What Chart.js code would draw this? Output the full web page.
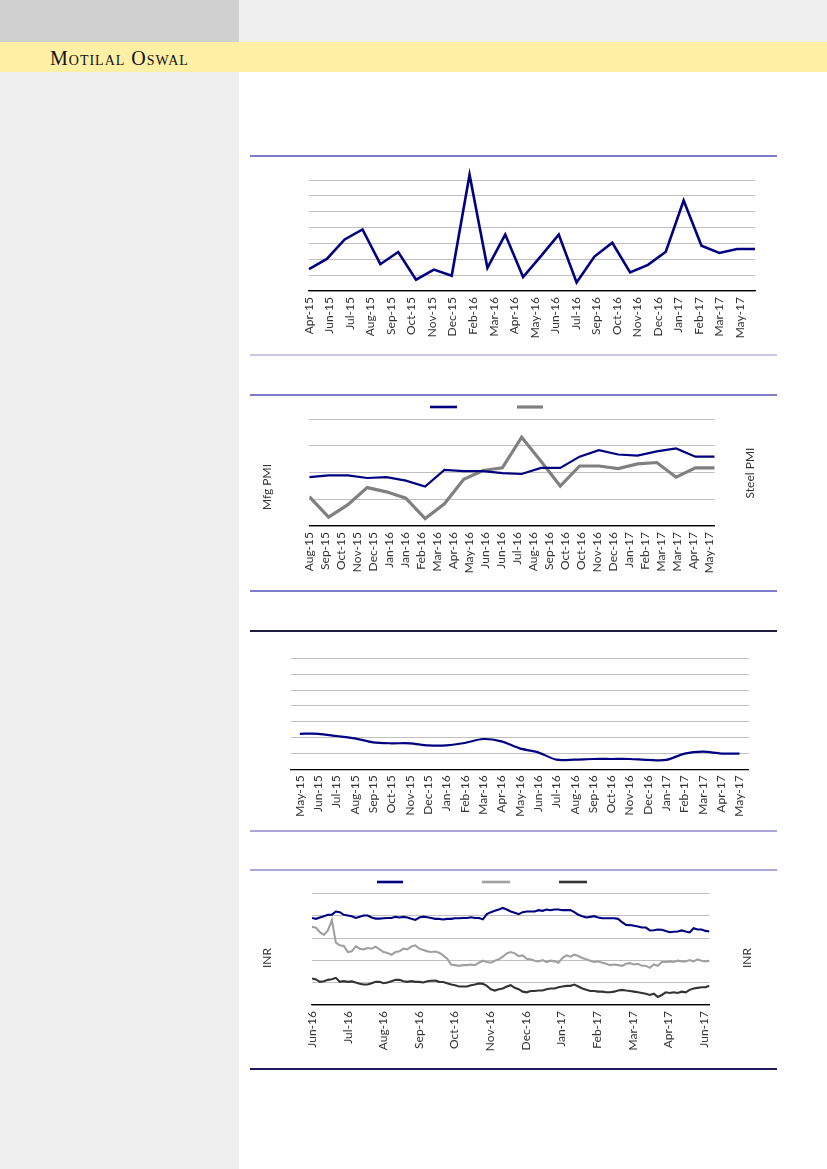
<!DOCTYPE html>
<html>
<head>
<meta charset="utf-8">
<script src="https://cdn.jsdelivr.net/npm/chart.js@4.4.0/dist/chart.umd.min.js"></script>
<style>
  html, body { margin: 0; padding: 0; }
  body { width: 827px; height: 1169px; position: relative; overflow: hidden; background: #fff; }
  .block { position: absolute; }
  .rule { position: absolute; left: 250px; width: 527px; }
  .graph { position: absolute; left: 250px; width: 527px; }
  .brand { position: absolute; left: 50px; top: 47px; font-family: "Liberation Serif", serif; font-variant: small-caps; font-size: 20px; color: #111; letter-spacing: 1px; }
</style>
</head>
<body>
<!-- page frame -->
<div class="block" style="left:0;top:0;width:239px;height:42px;background:#d0d0d0"></div>
<div class="block" style="left:239px;top:0;width:588px;height:42px;background:#efefef"></div>
<div class="block" style="left:0;top:42px;width:827px;height:30px;background:#fff0a6"></div>
<div class="block" style="left:0;top:72px;width:239px;height:1097px;background:#efefef"></div>
<div class="brand">Motilal Oswal</div>

<!-- rules above / below each chart -->
<div class="rule" style="top:155px;height:1.5px;background:#7c7cc8"></div>
<div class="rule" style="top:354px;height:2px;background:#c8c8e6"></div>
<div class="rule" style="top:394px;height:1.5px;background:#7c7cc8"></div>
<div class="rule" style="top:590px;height:1.5px;background:#7c7cc8"></div>
<div class="rule" style="top:630px;height:1.5px;background:#1e1e40"></div>
<div class="rule" style="top:829.5px;height:2.5px;background:#a8a8d8"></div>
<div class="rule" style="top:868.5px;height:2.5px;background:#a8a8d8"></div>
<div class="rule" style="top:1068px;height:1.5px;background:#1c1c5c"></div>

<div class="graph" style="top:158px;height:195px"><canvas id="graph1"></canvas></div>
<div class="graph" style="top:397px;height:192px"><canvas id="graph2"></canvas></div>
<div class="graph" style="top:633px;height:196px"><canvas id="graph3"></canvas></div>
<div class="graph" style="top:872px;height:195px"><canvas id="graph4"></canvas></div>

<script>
// Chart 1 - monthly series, Apr-15 to May-17 (values in gridline units).
const chart1_ticks = ['Apr-15', 'Jun-15', 'Jul-15', 'Aug-15', 'Sep-15', 'Oct-15', 'Nov-15', 'Dec-15', 'Feb-16', 'Mar-16', 'Apr-16',
  'May-16', 'Jun-16', 'Jul-16', 'Sep-16', 'Oct-16', 'Nov-16', 'Dec-16', 'Jan-17', 'Feb-17', 'Mar-17', 'May-17'];
const chart1_values = [1.38, 2.02, 3.25, 3.88, 1.69, 2.46, 0.71, 1.35, 0.96, 7.33, 1.46, 3.56, 0.88,
  2.2, 3.56, 0.54, 2.17, 3.04, 1.17, 1.65, 2.48, 5.71, 2.85, 2.40, 2.65, 2.65];

// Chart 2 - Mfg PMI vs Steel PMI, Aug-15 to May-17.
const pmi_ticks = ['Aug-15', 'Sep-15', 'Oct-15', 'Nov-15', 'Dec-15', 'Jan-16', 'Jan-16', 'Feb-16', 'Mar-16', 'Apr-16', 'May-16',
  'Jun-16', 'Jun-16', 'Jul-16', 'Aug-16', 'Sep-16', 'Oct-16', 'Oct-16', 'Nov-16', 'Dec-16', 'Jan-17', 'Feb-17', 'Mar-17',
  'Mar-17', 'Apr-17', 'May-17'];
const mfg_pmi = [1.83, 1.9, 1.9, 1.8, 1.83, 1.7, 1.48, 2.1, 2.06, 2.06, 1.98, 1.95, 2.18, 2.18, 2.6, 2.84,
  2.68, 2.64, 2.8, 2.91, 2.6, 2.6];
const steel_pmi = [1.1, 0.33, 0.8, 1.44, 1.28, 1.04, 0.28, 0.83, 1.75, 2.08, 2.18, 3.33, 2.43, 1.5, 2.25, 2.25,
  2.15, 2.33, 2.38, 1.83, 2.18, 2.18];

// Chart 3 - monthly series, May-15 to May-17.
const chart3_months = ['May-15', 'Jun-15', 'Jul-15', 'Aug-15', 'Sep-15', 'Oct-15', 'Nov-15', 'Dec-15', 'Jan-16', 'Feb-16',
  'Mar-16', 'Apr-16', 'May-16', 'Jun-16', 'Jul-16', 'Aug-16', 'Sep-16', 'Oct-16', 'Nov-16', 'Dec-16', 'Jan-17', 'Feb-17',
  'Mar-17', 'Apr-17', 'May-17'];
const chart3_values = [2.24, 2.24, 2.1, 1.95, 1.7, 1.64, 1.64, 1.51, 1.51, 1.66, 1.91, 1.76, 1.32, 1.07, 0.61,
  0.61, 0.65, 0.65, 0.65, 0.59, 0.59, 0.99, 1.11, 0.99, 0.99];

// Chart 4 - INR crosses, Jun-16 to Jun-17 (read every few trading days).
const inr_ticks = ['Jun-16', 'Jul-16', 'Aug-16', 'Sep-16', 'Oct-16', 'Nov-16', 'Dec-16', 'Jan-17', 'Feb-17', 'Mar-17', 'Apr-17', 'Jun-17'];
const inr_navy = [3.91, 3.87, 3.93, 3.99, 4.05, 4.06, 4.20, 4.17, 4.05, 4.02, 3.99, 3.91, 3.96, 4.02, 4.02, 3.93, 3.88,
  3.88, 3.90, 3.91, 3.91, 3.96, 3.93, 3.96, 3.93, 3.87,
  3.82, 3.93, 3.97, 3.94, 3.91, 3.87, 3.87, 3.84, 3.87, 3.87, 3.90, 3.90, 3.91, 3.91, 3.94, 3.91, 3.91, 3.85, 4.08,
  4.17, 4.23, 4.29, 4.36, 4.29, 4.20,
  4.14, 4.08, 4.17, 4.20, 4.20, 4.20, 4.26, 4.23, 4.29, 4.26, 4.29, 4.29, 4.26, 4.26, 4.26, 4.17, 4.05, 3.99, 3.93,
  3.96, 3.99, 3.93, 3.90, 3.90, 3.90,
  3.90, 3.87, 3.72, 3.60, 3.59, 3.56, 3.53, 3.48, 3.48, 3.35, 3.36, 3.39, 3.38, 3.32, 3.27, 3.29, 3.30, 3.35, 3.30,
  3.26, 3.45, 3.39, 3.39, 3.33, 3.30];
const inr_light = [3.51, 3.47, 3.27, 3.15, 3.35, 3.81, 2.80, 2.68, 2.65, 2.38, 2.41, 2.63, 2.53, 2.50, 2.56, 2.53, 2.62,
  2.50, 2.38, 2.34, 2.26, 2.38, 2.41, 2.53, 2.50, 2.63,
  2.68, 2.53, 2.47, 2.41, 2.38, 2.40, 2.35, 2.23, 2.08, 1.82, 1.79, 1.76, 1.79, 1.79, 1.82, 1.79, 1.90, 1.99, 1.93,
  1.90, 1.99, 2.05, 2.17, 2.32, 2.38,
  2.32, 2.20, 2.23, 2.08, 2.05, 1.99, 1.96, 2.02, 1.93, 1.99, 1.96, 1.90, 2.11, 2.23, 2.17, 2.26, 2.20, 2.11, 2.05,
  1.99, 1.93, 1.96, 1.90, 1.85, 1.79,
  1.82, 1.79, 1.76, 1.85, 1.88, 1.82, 1.85, 1.76, 1.76, 1.67, 1.82, 1.76, 1.93, 1.93, 1.96, 1.93, 1.99, 1.96, 1.96,
  2.02, 1.96, 2.05, 1.99, 1.96, 1.99];
const inr_dark = [1.19, 1.15, 1.04, 1.07, 1.13, 1.16, 1.22, 1.04, 1.07, 1.04, 1.06, 1.01, 0.95, 0.92, 0.92, 0.98, 1.04,
  1.04, 0.98, 1.01, 1.07, 1.13, 1.13, 1.07, 1.04, 1.07,
  1.04, 1.04, 1.01, 1.07, 1.09, 1.10, 1.04, 1.03, 0.98, 0.92, 0.89, 0.83, 0.83, 0.83, 0.89, 0.92, 0.97, 0.95, 0.86,
  0.71, 0.65, 0.71, 0.74, 0.83, 0.89,
  0.77, 0.71, 0.60, 0.57, 0.63, 0.63, 0.65, 0.65, 0.71, 0.74, 0.74, 0.80, 0.83, 0.86, 0.86, 0.92, 0.83, 0.74, 0.68,
  0.63, 0.63, 0.60, 0.60, 0.57, 0.57,
  0.60, 0.65, 0.68, 0.65, 0.63, 0.60, 0.57, 0.54, 0.51, 0.45, 0.51, 0.36, 0.45, 0.57, 0.54, 0.57, 0.54, 0.60, 0.57,
  0.68, 0.74, 0.77, 0.80, 0.80, 0.86];

const NAVY = '#000080';
const tick_font = { family: 'Lato', size: 12 };

// Rotated axis titles (both read bottom to top, like the original).
const side_titles = {
  id: 'side_titles',
  afterDraw(chart, args, opts) {
    const ctx = chart.ctx;
    (opts.items || []).forEach(item => {
      ctx.save();
      ctx.translate(item.x, item.y);
      ctx.rotate(-Math.PI / 2);
      ctx.font = '12px Lato';
      ctx.fillStyle = '#333';
      ctx.textAlign = 'center';
      ctx.textBaseline = 'middle';
      ctx.fillText(item.text, 0, 0);
      ctx.restore();
    });
  }
};

// Legend samples: just a short stroke in each dataset's colour (the legend text is blank).
const legend_lines = {
  id: 'legend_lines',
  afterDraw(chart, args, opts) {
    const ctx = chart.ctx;
    (opts.items || []).forEach((item, i) => {
      const ds = chart.data.datasets[i];
      ctx.save();
      ctx.strokeStyle = ds.borderColor;
      ctx.lineWidth = item.w || 3;
      ctx.beginPath();
      ctx.moveTo(item.x1, item.y);
      ctx.lineTo(item.x2, item.y);
      ctx.stroke();
      ctx.restore();
    });
  }
};

function y_scale(max, width) {
  return {
    min: 0,
    max: max,
    ticks: { display: false, stepSize: 1 },
    grid: { color: '#c0c0c0', lineWidth: 1, drawTicks: false },
    border: { display: false },
    afterFit: (scale) => { scale.width = width; }
  };
}

// Linear x axis with hand placed date ticks (the source used a date axis).
function x_date_scale(max, labels, step, height) {
  return {
    type: 'linear',
    min: 0,
    max: max,
    afterBuildTicks: (scale) => {
      scale.ticks = labels.map((l, k) => ({ value: k * step }));
    },
    ticks: {
      autoSkip: false, minRotation: 90, maxRotation: 90, padding: 6,
      color: '#333', font: tick_font,
      callback: (value, index) => labels[index]
    },
    grid: { display: false, drawTicks: false },
    border: { display: true, color: '#000', width: 1.3 },
    afterFit: (scale) => { scale.height = height; }
  };
}

function base_options(scales, padding, plugins) {
  return {
    responsive: true,
    maintainAspectRatio: false,
    animation: false,
    layout: { padding: padding },
    elements: { point: { radius: 0 }, line: { tension: 0 } },
    plugins: Object.assign({ legend: { display: false }, tooltip: { enabled: false } }, plugins || {}),
    scales: scales
  };
}

function to_points(values) {
  return values.map((v, i) => ({ x: i, y: v }));
}

// Chart 1
new Chart(document.getElementById('graph1'), {
  type: 'line',
  data: {
    datasets: [{ data: to_points(chart1_values), borderColor: NAVY, borderWidth: 2.6, clip: false }]
  },
  options: base_options({
    x: x_date_scale(25, chart1_ticks, 1.15, 62),
    y: y_scale(7, 59)
  }, { top: 22, right: 22, bottom: 0, left: 0 })
});

// Chart 2
new Chart(document.getElementById('graph2'), {
  type: 'line',
  data: {
    datasets: [
      { label: 'Mfg PMI', data: to_points(mfg_pmi), borderColor: NAVY, borderWidth: 2.2 },
      { label: 'Steel PMI', data: to_points(steel_pmi), borderColor: '#808080', borderWidth: 3.2, yAxisID: 'y1' }
    ]
  },
  options: base_options({
    x: x_date_scale(21, pmi_ticks, 0.8276, 63),
    y: y_scale(4, 59.3),
    y1: { display: false, min: 0, max: 4 }
  }, { top: 22.3, right: 62.3, bottom: 0, left: 0 }, {
    side_titles: { items: [{ text: 'Mfg PMI', x: 17, y: 90 }, { text: 'Steel PMI', x: 500, y: 76 }] },
    legend_lines: { items: [{ x1: 180, x2: 207, y: 10, w: 2.6 }, { x1: 267, x2: 293, y: 10, w: 3.2 }] }
  }),
  plugins: [side_titles, legend_lines]
});

// Chart 3
new Chart(document.getElementById('graph3'), {
  type: 'line',
  data: {
    labels: chart3_months,
    datasets: [{ data: chart3_values, borderColor: NAVY, borderWidth: 2.2, tension: 0.3 }]
  },
  options: base_options({
    x: {
      type: 'category',
      offset: true,
      ticks: { autoSkip: false, minRotation: 90, maxRotation: 90, padding: 6, color: '#333', font: tick_font },
      grid: { display: false, drawTicks: false },
      border: { display: true, color: '#000', width: 1.3 },
      afterFit: (scale) => { scale.height = 59.7; }
    },
    y: y_scale(7, 40.7)
  }, { top: 25.3, right: 28.3, bottom: 0, left: 0 })
});

// Chart 4
new Chart(document.getElementById('graph4'), {
  type: 'line',
  data: {
    datasets: [
      { data: to_points(inr_navy), borderColor: NAVY, borderWidth: 2.1 },
      { data: to_points(inr_light), borderColor: '#a0a0a0', borderWidth: 2.1 },
      { data: to_points(inr_dark), borderColor: '#333333', borderWidth: 2.1 }
    ]
  },
  options: base_options({
    x: x_date_scale(100, inr_ticks, 8.97, 62),
    y: y_scale(5, 62)
  }, { top: 21.7, right: 67.5, bottom: 0, left: 0 }, {
    side_titles: { items: [{ text: 'INR', x: 17, y: 86 }, { text: 'INR', x: 497, y: 86 }] },
    legend_lines: { items: [{ x1: 127, x2: 153, y: 10, w: 2.6 }, { x1: 232, x2: 260, y: 10, w: 2.6 }, { x1: 309, x2: 337, y: 10, w: 2.6 }] }
  }),
  plugins: [side_titles, legend_lines]
});
</script>
</body>
</html>
